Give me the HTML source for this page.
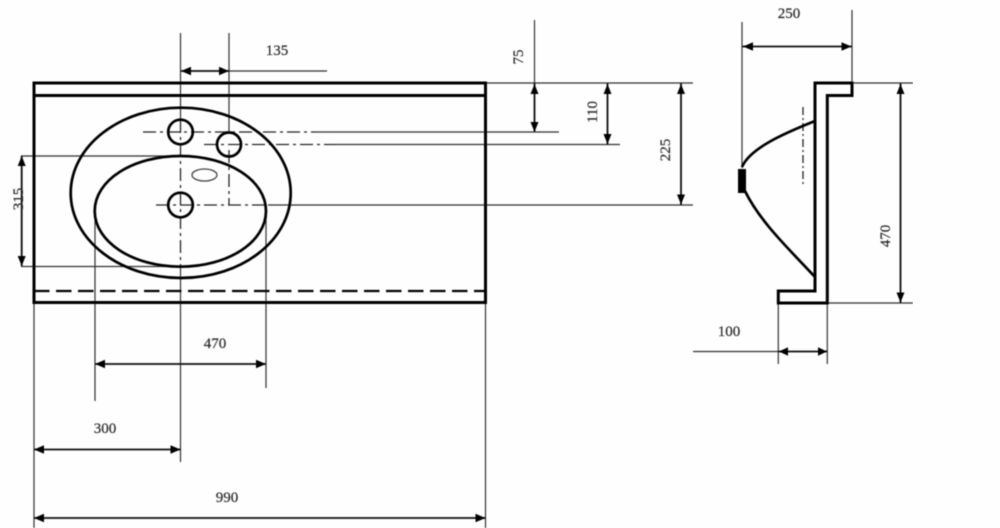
<!DOCTYPE html>
<html>
<head>
<meta charset="utf-8">
<style>
html,body{margin:0;padding:0;background:#fefefe;}
svg{display:block;}
text{font-family:"Liberation Serif",serif;font-size:15px;fill:#2a2a2a;stroke:#2a2a2a;stroke-width:0.2;text-anchor:middle;}
.t{fill:none;stroke:#000;stroke-width:3;stroke-linejoin:miter;}
.o{fill:none;stroke:#000;stroke-width:2.7;}
.d{fill:none;stroke:#333;stroke-width:1.2;}
.a{fill:none;stroke:#111;stroke-width:1.8;}
.c{fill:none;stroke:#222;stroke-width:1.3;stroke-dasharray:13 4 3 4;}
.h{fill:#000;stroke:none;}
</style>
</head>
<body>
<svg width="1000" height="528" viewBox="0 0 1000 528" xmlns="http://www.w3.org/2000/svg">
<defs><filter id="b" x="0" y="0" width="100%" height="100%"><feGaussianBlur stdDeviation="0.45"/></filter></defs>
<g filter="url(#b)">
<!-- extension lines -->
<path class="d" d="M180.5 33V120M229 33V132M180.5 268V462M95 212V401M266 212V388M34 303V528M485.5 303V528"/>
<path class="d" d="M21 156H170M21 266.5H165"/>
<path class="d" d="M229 71H327"/>
<path class="d" d="M534.5 20V83"/>
<path class="d" d="M316 132H559M335 144.5H620"/>
<path class="d" d="M268 205H693M485 83H693"/>
<!-- center lines -->
<path class="c" d="M180.5 120V268"/>
<path class="c" d="M229 150V205"/>
<path class="c" d="M143 132H316"/>
<path class="c" d="M204 144.5H335"/>
<path class="c" d="M156 205H268"/>
<!-- counter top -->
<path class="t" d="M34 83H485.5V302.5H34ZM34 95.5H485.5"/>
<path d="M34 291H485" fill="none" stroke="#000" stroke-width="2.2" stroke-dasharray="15.5 6.5"/>
<!-- basin -->
<path class="o" d="M181 107.7C242 107.7 290.7 146 290.7 193C290.7 240 242 278 181 278C120 278 70.7 240 70.7 193C70.7 146 120 107.7 181 107.7Z"/>
<path class="o" d="M180.5 156C228 156 266 180 266 211C266 242 228 266.7 180.5 266.7C133 266.7 94.7 242 94.7 211C94.7 180 133 156 180.5 156Z"/>
<circle class="o" cx="180.5" cy="132" r="12.3"/>
<circle class="o" cx="229" cy="144.5" r="12"/>
<circle class="o" cx="180.5" cy="205" r="12.3"/>
<ellipse cx="204.5" cy="175" rx="12.5" ry="6" fill="none" stroke="#444" stroke-width="1.3"/>
<!-- dimension arrows -->
<path class="a" d="M181 71H229"/>
<path class="h" d="M181 71l10-4.2v8.4zM229 71l-10-4.2v8.4z"/>
<path class="a" d="M21.7 156V266"/>
<path class="h" d="M21.7 156l-4 10h8zM21.7 266l-4-10h8z"/>
<path class="a" d="M534.5 83V132"/>
<path class="h" d="M534.5 84l-4 10h8zM534.5 132l-4-10h8z"/>
<path class="a" d="M607.5 83V144.5"/>
<path class="h" d="M607.5 84l-4 10h8zM607.5 144l-4-10h8z"/>
<path class="a" d="M681 83V205"/>
<path class="h" d="M681 84l-4 10h8zM681 204.5l-4-10h8z"/>
<path class="a" d="M95 364H266"/>
<path class="h" d="M95 364l10-4.2v8.4zM266 364l-10-4.2v8.4z"/>
<path class="a" d="M34 449.5H180.5"/>
<path class="h" d="M34 449.5l10-4.2v8.4zM180.5 449.5l-10-4.2v8.4z"/>
<path class="a" d="M34 518H485.5"/>
<path class="h" d="M34 518l10-4.2v8.4zM485.5 518l-10-4.2v8.4z"/>
<!-- side view -->
<path class="d" d="M742 22V168M852 10V83M852 83H913M827 303H913M778.3 303V364M827.3 303V364M693 351.5H778"/>
<path class="t" d="M815 83H852V95.5H827.3V303H778.3V291H815Z"/>
<path class="c" style="stroke-dasharray:8 3 2 3" d="M803 107V186"/>
<path class="o" d="M742 167C750 148 785 133 815 121"/>
<path class="o" d="M745 191C760 222 790 250 815 277"/>
<rect x="738" y="169" width="8" height="24" fill="#000"/>
<path class="a" d="M742 46.5H852"/>
<path class="h" d="M743 46.5l10-4.2v8.4zM851.5 46.5l-10-4.2v8.4z"/>
<path class="a" d="M900.5 83V303"/>
<path class="h" d="M900.5 84l-4 10h8zM900.5 302.5l-4-10h8z"/>
<path class="a" d="M778.3 351.5H827.3"/>
<path class="h" d="M779 351.5l9-4.2v8.4zM827 351.5l-9-4.2v8.4z"/>
<!-- labels -->
<text x="277" y="55">135</text>
<text x="789" y="18">250</text>
<text x="729" y="336">100</text>
<text x="215" y="348">470</text>
<text x="105" y="433">300</text>
<text x="227" y="502">990</text>
<text transform="translate(23,199) rotate(-90)">315</text>
<text transform="translate(523,57) rotate(-90)">75</text>
<text transform="translate(597,112) rotate(-90)">110</text>
<text transform="translate(670,150) rotate(-90)">225</text>
<text transform="translate(890,236) rotate(-90)">470</text>
</g>
</svg>
</body>
</html>
